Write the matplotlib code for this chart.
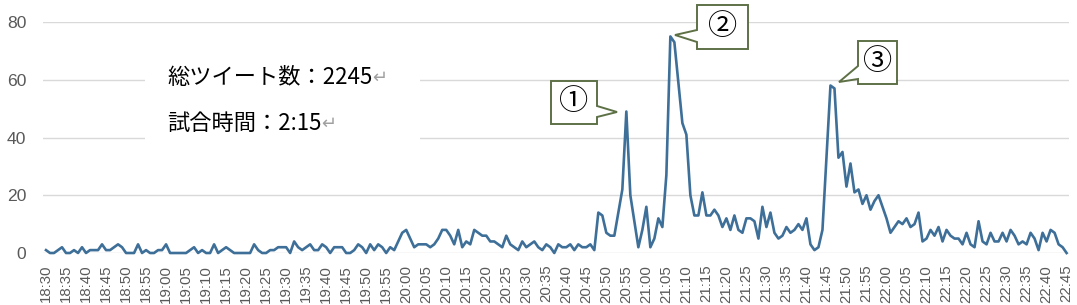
import numpy as np
import pandas as pd
import matplotlib
matplotlib.use('Agg')
import matplotlib.pyplot as plt
from matplotlib.patches import Polygon, Rectangle
from matplotlib.text import Annotation
from matplotlib.transforms import Affine2D

# tweets per minute, 18:30 .. 22:45
tweets = [
    1, 0, 0, 1, 2, 0, 0, 1, 0, 2,
    0, 1, 1, 1, 3, 1, 1, 2, 3, 2,
    0, 0, 0, 3, 0, 1, 0, 0, 1, 1,
    3, 0, 0, 0, 0, 0, 1, 2, 0, 1,
    0, 0, 3, 0, 1, 2, 1, 0, 0, 0,
    0, 0, 3, 1, 0, 0, 1, 1, 2, 2,
    2, 0, 4, 2, 1, 2, 3, 1, 1, 3,
    2, 0, 2, 2, 2,
    0, 0, 1, 3, 2, 0, 3, 1, 3, 2,
    0, 2, 1, 4, 7, 8, 5, 2, 3, 3,
    3, 2, 3, 5, 8, 8, 6, 3, 8, 2,
    4, 3, 8, 7, 6, 6, 4, 4, 3, 2,
    6, 3, 2, 1, 4, 2, 3, 4, 2, 1,
    3, 2, 0, 3, 2, 2, 3, 1, 3, 2, 2, 3, 1,
    14, 13, 7, 6, 6, 14, 22, 49, 20, 11,
    2, 8, 16, 2, 5, 12, 9, 27, 75, 73,
    59, 45, 41, 20, 13, 13, 21, 13, 13, 15,
    13,
    9, 12, 8, 13, 8, 7, 12, 12, 11, 5,
    16, 9, 14, 7, 5, 6, 9, 7, 8, 10,
    8, 12, 3, 1, 2, 8,
    33, 58, 57, 33, 35, 23, 31, 21, 22, 17, 20, 15, 18, 20,
    16, 12, 7, 9, 11, 10, 12, 9, 10, 14,
    4, 5, 8, 6, 9, 4, 8, 6, 5, 5,
    3, 7, 3, 2, 11, 4, 3, 7, 4, 4,
    7, 4, 8, 6, 3, 4, 3, 7, 5, 1,
    7, 4, 8, 7, 3, 2, 0,
]
times = pd.date_range('2000-01-01 18:30', periods=len(tweets), freq='min')
tick_labels = [t.strftime('%H:%M') for t in times[::5]]
y_ticks = [0, 20, 40, 60, 80]

info_lines = ['総ツイート数：2245', '試合時間：2:15']
callout_labels = ['①', '②', '③']

W, H = 1077, 305
fig = plt.figure(figsize=(W / 100, H / 100), dpi=100)
ax = fig.add_axes([43 / W, 1 - 253 / H, (1069 - 43) / W, (253 - 22) / H])

x = np.arange(len(tweets))
ax.plot(x, tweets, color='#3e6f98', lw=1.9, solid_joinstyle='round', clip_on=False, zorder=3)

ax.set_xlim(-0.75, 255.6)
ax.set_ylim(0, 80)
ax.set_yticks(y_ticks)
ax.set_xticks(x[::5])
ax.set_xticklabels(tick_labels, rotation=90, fontsize=10.8, family='Liberation Sans', color='#595959')
ax.set_yticklabels([str(v) for v in y_ticks], fontsize=12.6, family='Liberation Sans', color='#595959')
ax.tick_params(length=0)
ax.tick_params(axis='y', pad=12)
ax.tick_params(axis='x', pad=8.5)
ax.yaxis.grid(True, color='#d9d9d9', lw=1.0)
ax.set_axisbelow(True)
for s in ax.spines.values():
    s.set_visible(False)

# pixel coordinates (origin top-left) -> figure
pix = Affine2D().scale(1 / W, -1 / H).translate(0, 1) + fig.transFigure

# white text box with the totals
fig.add_artist(Rectangle((145, 40), 275, 125, transform=pix, facecolor='white', edgecolor='none', zorder=2))
jp = ['Noto Sans CJK JP', 'DejaVu Sans']
for line, y in zip(info_lines, [77, 123]):
    t = fig.text(167, y, line, transform=pix, fontsize=16, family=jp, va='center', ha='left', zorder=4)
    fig.add_artist(Annotation('↵', xy=(1, 0.45), xycoords=t, va='center', ha='left', fontsize=13,
                              family='DejaVu Sans', color='#a0a0a0', zorder=4))

# callouts
edge = '#5e7146'
shapes = [
    [(551, 81), (597, 81), (597, 106), (617, 112), (597, 117), (597, 124), (551, 124)],
    [(697, 5), (748, 5), (748, 49), (697, 49), (697, 42), (675, 35), (697, 30)],
    [(858, 41), (897, 41), (897, 84), (858, 84), (858, 79), (839, 82), (858, 66)],
]
centers = [(574, 102), (722.5, 27), (877.5, 62.5)]
for pts, c, lab in zip(shapes, centers, callout_labels):
    fig.add_artist(Polygon(pts, closed=True, transform=pix, facecolor='white', edgecolor=edge,
                           lw=1.4, zorder=5))
    fig.text(c[0], c[1], lab, transform=pix, fontsize=21, family=jp, ha='center', va='center', zorder=6)

fig.savefig('out.png', dpi=100)
